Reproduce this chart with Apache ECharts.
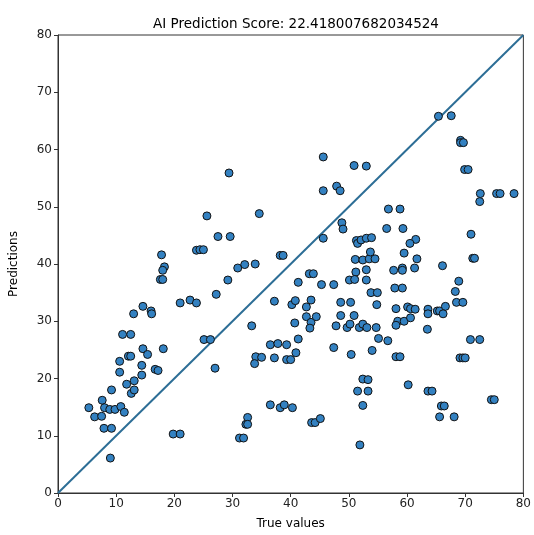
<!DOCTYPE html>
<html>
<head>
<meta charset="utf-8">
<script src="https://cdn.jsdelivr.net/npm/echarts@6/dist/echarts.min.js"></script>
<style>
  html, body { margin: 0; padding: 0; background: #fff; }
  #chart { width: 534px; height: 535px; }
</style>
</head>
<body>
<div id="chart"></div>
<script>
// true values (x)
const trueValues = [
  5.3, 6.3, 7.5, 7.6, 8.0, 8.9, 9.8, 9.2, 10.8, 11.4, 7.9, 9.2, 9.0, 10.6, 10.6, 11.8, 12.6, 13.1, 13.1, 12.1,
  12.5, 11.1, 12.5, 14.6, 15.4, 14.4, 14.4, 16.7, 17.2, 18.1, 13.0, 14.6, 16.0, 16.1, 21.0, 22.7, 23.8, 19.8, 21.0, 17.8,
  18.3, 18.0, 17.6, 18.0, 23.8, 24.4, 25.0, 25.6, 27.5, 29.6, 29.4, 34.6, 30.9, 32.1, 33.9, 29.2, 27.2, 38.2, 38.7, 45.6,
  45.6, 47.9, 48.5, 50.9, 53.0, 48.8, 49.0, 45.6, 51.3, 51.5, 52.1, 53.0, 53.9, 51.1, 52.4, 53.5, 54.5, 53.7, 51.2, 53.0,
  50.1, 51.0, 53.0, 41.3, 43.2, 43.9, 45.3, 47.4, 25.1, 26.2, 27.0, 37.2, 40.2, 40.8, 42.7, 43.5, 42.7, 43.5, 43.3, 44.4,
  40.7, 33.3, 41.3, 36.5, 37.8, 39.3, 34.0, 35.0, 33.8, 37.2, 39.3, 40.0, 40.9, 36.5, 38.2, 38.9, 40.3, 32.6, 32.3, 32.6,
  31.2, 31.9, 43.6, 44.2, 45.1, 47.8, 48.6, 48.6, 50.3, 49.7, 50.2, 50.9, 51.8, 52.4, 53.1, 54.7, 47.4, 50.4, 52.4, 53.3,
  51.5, 53.3, 52.4, 51.9, 65.4, 67.6, 69.2, 69.2, 69.7, 69.9, 70.5, 72.6, 75.4, 76.0, 78.4, 72.5, 71.0, 71.3, 71.6, 68.9,
  68.3, 66.1, 56.8, 58.8, 56.5, 59.3, 61.5, 60.5, 59.5, 61.7, 61.3, 59.2, 59.2, 57.7, 57.9, 59.2, 53.8, 54.9, 68.5, 69.6,
  54.8, 58.1, 60.1, 60.6, 61.4, 63.6, 63.6, 65.2, 65.6, 66.6, 66.2, 58.4, 59.5, 60.6, 58.1, 63.5, 55.1, 56.7, 54.0, 58.1,
  58.8, 70.9, 72.5, 69.1, 69.6, 70.0, 60.2, 63.6, 64.3, 65.9, 66.4, 65.6, 68.1, 74.5, 75.0
];
// predictions (y), same order
const predictions = [
  14.9, 13.3, 13.4, 16.2, 14.9, 14.6, 14.6, 18.0, 15.1, 14.1, 11.3, 11.3, 6.1, 21.1, 23.0, 19.0, 17.4, 18.0, 19.6, 23.9,
  23.9, 27.7, 27.7, 25.2, 24.2, 22.3, 20.6, 21.6, 21.4, 25.2, 31.3, 32.6, 31.8, 31.3, 33.2, 33.7, 33.2, 10.3, 10.3, 41.6,
  39.5, 38.9, 37.3, 37.3, 42.4, 42.5, 42.5, 48.4, 44.8, 44.8, 55.9, 48.8, 39.3, 39.9, 40.0, 37.2, 34.7, 41.5, 41.5, 58.7,
  52.8, 53.6, 52.8, 57.2, 57.1, 47.2, 46.1, 44.5, 44.1, 43.6, 44.2, 44.5, 44.6, 40.8, 40.7, 40.9, 40.9, 42.1, 38.6, 39.0,
  37.2, 37.3, 37.2, 36.8, 38.3, 38.3, 36.4, 36.4, 26.8, 26.8, 21.8, 33.5, 32.9, 33.6, 32.5, 33.7, 30.8, 29.8, 28.8, 30.8,
  29.7, 29.2, 26.9, 25.9, 26.1, 25.9, 23.8, 23.7, 22.6, 23.6, 23.3, 23.3, 24.5, 15.4, 14.9, 15.4, 14.9, 13.2, 12.0, 12.0,
  9.6, 9.6, 12.3, 12.3, 13.0, 29.2, 31.0, 33.3, 33.3, 28.9, 29.5, 31.0, 28.9, 29.5, 28.9, 28.9, 25.4, 24.2, 19.9, 19.8,
  17.8, 17.8, 15.3, 8.4, 65.8, 65.9, 61.6, 61.2, 61.2, 56.5, 56.5, 52.3, 52.3, 52.3, 52.3, 50.9, 45.2, 41.0, 41.0, 37.0,
  35.2, 39.7, 49.6, 49.6, 46.2, 46.2, 44.3, 43.6, 41.9, 40.9, 39.3, 39.3, 38.9, 38.9, 35.8, 35.8, 35.0, 35.0, 33.3, 33.3,
  32.9, 32.2, 32.5, 32.2, 32.1, 32.1, 31.3, 31.8, 31.8, 32.6, 31.3, 30.0, 30.0, 30.6, 29.3, 28.6, 27.0, 26.6, 24.9, 23.8,
  23.8, 26.8, 26.8, 23.6, 23.6, 23.6, 18.9, 17.8, 17.8, 15.2, 15.2, 13.3, 13.3, 16.3, 16.3
];
// identity line endpoints
const diagonal = [[0, 0], [80, 80]];
const axisTicks = [0, 10, 20, 30, 40, 50, 60, 70, 80];

const chart = echarts.init(document.getElementById("chart"));

const font = "DejaVu Sans";

const option = {
  animation: false,
  title: {
    text: "AI Prediction Score: 22.418007682034524",
    left: 291,
    top: 12,
    textAlign: "center",
    textStyle: {
      fontFamily: font,
      fontSize: 13.5,
      fontWeight: "normal",
      color: "#000",
    },
  },
  grid: {
    left: 58,
    right: 7,
    top: 35,
    bottom: 34,
    show: true,
    borderColor: "#333",
    borderWidth: 1,
  },
  xAxis: {
    type: "value",
    min: axisTicks[0],
    max: axisTicks[axisTicks.length - 1],
    interval: 10,
    name: "True values",
    nameLocation: "middle",
    nameGap: 25,
    nameTextStyle: { fontFamily: font, fontSize: 12, color: "#000" },
    splitLine: { show: false },
    axisLine: { lineStyle: { color: "#333", width: 1 } },
    axisTick: { inside: false, length: 4, lineStyle: { color: "#333" } },
    axisLabel: { fontFamily: font, fontSize: 12, color: "#222", margin: 5 },
  },
  yAxis: {
    type: "value",
    min: axisTicks[0],
    max: axisTicks[axisTicks.length - 1],
    interval: 10,
    name: "Predictions",
    nameLocation: "middle",
    nameGap: 38,
    nameTextStyle: { fontFamily: font, fontSize: 12, color: "#000" },
    splitLine: { show: false },
    axisLine: { lineStyle: { color: "#333", width: 1 } },
    axisTick: { inside: false, length: 4, lineStyle: { color: "#333" } },
    axisLabel: { fontFamily: font, fontSize: 12, color: "#222", margin: 6 },
  },
  series: [
    {
      type: "scatter",
      data: trueValues.map((x, i) => [x, predictions[i]]),
      symbol: "circle",
      symbolSize: 8,
      itemStyle: {
        color: "#3381c1",
        borderColor: "#111",
        borderWidth: 1,
        opacity: 1,
      },
      z: 3,
    },
    {
      type: "line",
      data: diagonal,
      symbol: "none",
      lineStyle: { color: "#2d6e96", width: 2 },
      z: 2,
    },
  ],
};

chart.setOption(option);
</script>
</body>
</html>
